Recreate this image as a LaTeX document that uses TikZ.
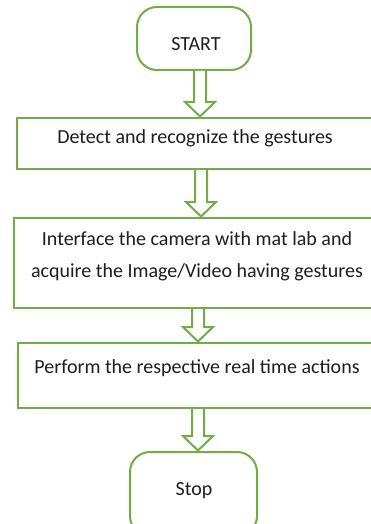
\documentclass[tikz,border=0pt]{standalone}
\usepackage{fontspec}
\setmainfont{Carlito}
\usetikzlibrary{calc}
\definecolor{ogreen}{RGB}{112,173,71}
\definecolor{txt}{RGB}{30,30,30}
\tikzset{
  box/.style={draw=ogreen, line width=2pt, fill=white, inner sep=0pt},
  term/.style={box, rounded corners=20pt},
  lbl/.style={text=txt, font=\fontsize{20pt}{32pt}\selectfont, inner sep=0pt, align=center},
  blk/.style={draw=ogreen, line width=2pt, fill=white, line join=miter},
}
% #1 from node, #2 to node, #3 x of arrow centre
\newcommand\blockarrow[3]{%
  \coordinate (ax) at (#3,0);
  \draw[blk] ($(ax |- #1.south)+(-6pt,0)$) -- ($(ax |- #2.north)+(-6pt,15pt)$)
    -- ($(ax |- #2.north)+(-15pt,15pt)$) -- ($(ax |- #2.north)+(0,0.5pt)$)
    -- ($(ax |- #2.north)+(15pt,15pt)$) -- ($(ax |- #2.north)+(6pt,15pt)$)
    -- ($(ax |- #1.south)+(6pt,0)$);
}
\begin{document}
\begin{tikzpicture}[x=1pt,y=1pt]
\useasboundingbox (0,0) rectangle (371,-524);
\node[term, minimum width=114pt, minimum height=63pt] (start) at (194,-38.5) {};
\node[lbl] (tstart) at (196,-44) {START};
\node[box, minimum width=368pt, minimum height=51pt] (b1) at (201,-143.5) {};
\node[lbl] (t1) at (195,-138) {Detect and recognize the gestures};
\node[box, minimum width=371pt, minimum height=90pt] (b2) at (199.5,-263) {};
\node[lbl] (t2) at (197,-256) {Interface the camera with mat lab and\\acquire the Image/Video having gestures};
\node[box, minimum width=367pt, minimum height=65pt] (b3) at (201.5,-375.5) {};
\node[lbl] (t3) at (197,-368) {Perform the respective real time actions};
\node[term, minimum width=127pt, minimum height=84pt] (stop) at (193.5,-494) {};
\node[lbl] (tstop) at (194,-491) {Stop};
\blockarrow{start}{b1}{200}
\blockarrow{b1}{b2}{201}
\blockarrow{b2}{b3}{198}
\blockarrow{b3}{stop}{198}
\end{tikzpicture}
\end{document}
